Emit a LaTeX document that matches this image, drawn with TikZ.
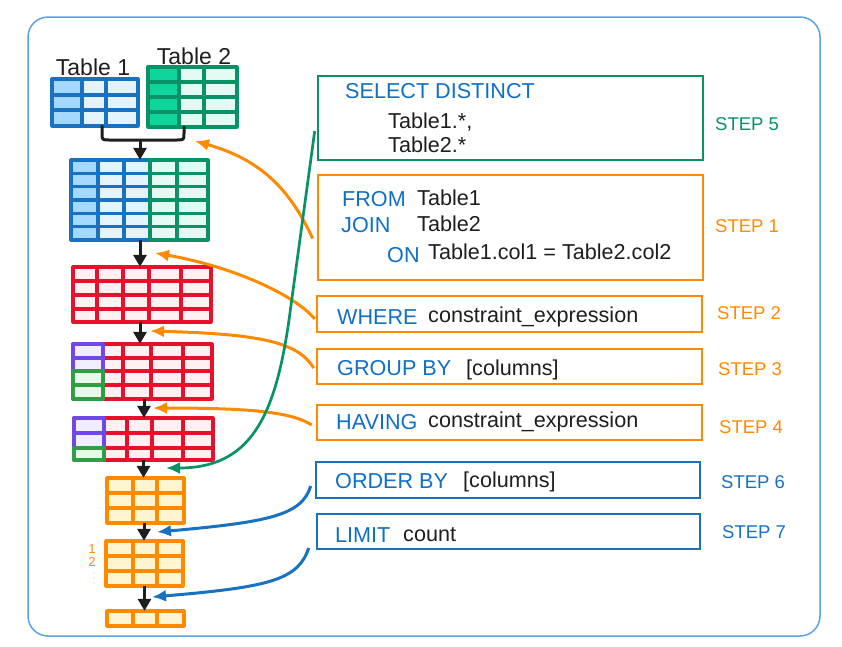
\documentclass[tikz,border=0pt]{standalone}
\usepackage{fontspec}
\setmainfont{Liberation Sans}
\usetikzlibrary{arrows.meta,calc,fit}
\definecolor{cBlue}{HTML}{1971C2}
\definecolor{cBlueDk}{HTML}{A5D8FF}
\definecolor{cBlueLt}{HTML}{E3F3FF}
\definecolor{cGreen}{HTML}{099268}
\definecolor{cGreenDk}{HTML}{0FD49C}
\definecolor{cGreenLt}{HTML}{E3FBF3}
\definecolor{cRed}{HTML}{E8112D}
\definecolor{cRedLt}{HTML}{FFF1F1}
\definecolor{cPurple}{HTML}{7048E8}
\definecolor{cPurpleLt}{HTML}{EFEDFF}
\definecolor{cGreenB}{HTML}{2F9E44}
\definecolor{cGreenBLt}{HTML}{E6F9EA}
\definecolor{cOrange}{HTML}{FF8A00}
\definecolor{cOrangeLt}{HTML}{FFF5D1}
\definecolor{cKey}{HTML}{0F6FC6}
\definecolor{cFrame}{HTML}{5AA2E6}
\definecolor{cInk}{HTML}{1E1E1E}
\newcommand{\mktable}[8]{%
  \node[fit={(#3,#4) (#5,#6)}, inner sep=0pt] (#1) {};
  \foreach \xx in {#7} {\draw[#2,tline] (\xx,#4) -- (\xx,#6);}
  \foreach \yy in {#8} {\draw[#2,tline] (#3,\yy) -- (#5,\yy);}
  \draw[#2,tline] (#3,#4) rectangle (#5,#6);}
\begin{document}
\begin{tikzpicture}[x=1pt,y=-1pt,
  tline/.style={line width=3.2pt,line join=round},
  box/.style={inner sep=0pt,line width=2.6pt},
  txt/.style={inner sep=0pt,anchor=base west,font=\fontsize{21.6}{25}\selectfont,text=cInk},
  kw/.style={txt,text=cKey},
  steplbl/.style={inner sep=0pt,anchor=base west,font=\fontsize{18.5}{22}\selectfont},
  hand/.style={inner sep=0pt,font=\fontsize{23}{26}\selectfont,text=cInk},
  barr/.style={line width=3pt,cInk,-{Triangle[length=12pt,width=13pt]}},
  carr/.style={line width=3pt,-{Latex[length=14pt,width=12pt]}}]
\useasboundingbox (0,0) rectangle (842,646);
\draw[cFrame,line width=1.5pt,rounded corners=20pt] (28,17) rectangle (820,636);

% ---- Table 1 & Table 2
\node[hand] (lab1) at (93,67) {Table 1};
\node[hand] (lab2) at (194,56) {Table 2};
\fill[cBlueLt] (52,79) rectangle (138,126);
\fill[cBlueDk] (52,79) rectangle (82,126);
\mktable{t1}{cBlue}{52}{79}{138}{126}{82,106}{95,110}
\fill[cGreenLt] (148,67) rectangle (237,127);
\fill[cGreenDk] (148,67) rectangle (179,127);
\mktable{t2}{cGreen}{148}{67}{237}{127}{179,204}{82,97,112}

% ---- joined table
\fill[cBlueLt] (71,160) rectangle (150,240);
\fill[cBlueDk] (71,160) rectangle (98,240);
\fill[cGreenLt] (150,160) rectangle (208,240);
\mktable{jl}{cBlue}{71}{160}{150}{240}{98,124}{173.3,186.7,200,213.3,226.7}
\mktable{jr}{cGreen}{150}{160}{208}{240}{177}{173.3,186.7,200,213.3,226.7}
\node[fit={(71,160) (208,240)}, inner sep=0pt] (j) {};

% ---- red tables
\fill[cRedLt] (73,267) rectangle (211,322);
\mktable{r1}{cRed}{73}{267}{211}{322}{97,123,149,181}{281,295,309}
\fill[cRedLt] (73,344) rectangle (212,399);
\fill[cPurpleLt] (73,344) rectangle (103,371);
\fill[cGreenBLt] (73,371) rectangle (103,399);
\mktable{r2}{cRed}{73}{344}{212}{399}{103,123,151,183}{358,371,385}
\draw[cPurple,tline] (73,344) rectangle (103,371) (73,358) -- (103,358);
\draw[cGreenB,tline] (73,371) rectangle (103,399) (73,385) -- (103,385);
\fill[cRedLt] (74,418) rectangle (213,460);
\fill[cPurpleLt] (74,418) rectangle (104,448);
\fill[cGreenBLt] (74,448) rectangle (104,460);
\mktable{r3}{cRed}{74}{418}{213}{460}{104,127,152,183}{433,448}
\draw[cPurple,tline] (74,418) rectangle (104,448) (74,433) -- (104,433);
\draw[cGreenB,tline] (74,448) rectangle (104,460);

% ---- orange tables
\fill[cOrangeLt] (107,478) rectangle (184,523);
\mktable{o1}{cOrange}{107}{478}{184}{523}{133,157}{493,508}
\fill[cOrangeLt] (106,541) rectangle (183,586);
\mktable{o2}{cOrange}{106}{541}{183}{586}{133,157}{556,571}
\fill[cOrangeLt] (107,611) rectangle (184,626);
\node[fit={(107,611) (184,626)}, inner sep=0pt] (o3) {};
\draw[cOrange,tline] (107,611) rectangle (184,626) (133,611) -- (133,626) (157,611) -- (157,626);
\node[inner sep=0pt,text=cOrange,font=\fontsize{13}{14}\selectfont] (n1) at (92,549) {1};
\node[inner sep=0pt,text=cOrange,font=\fontsize{13}{14}\selectfont] (n2) at (92,562) {2};
\foreach \yy in {573,578,583} {\fill[cOrange!60] (94,\yy) circle (0.7pt);}

% ---- black connectors
\coordinate (jn) at (140,140);
\draw[line width=3pt,cInk,line cap=round] ([xshift=7pt]t1.south) -- (102,133) .. controls (102,140) .. (110,140) -- (176,140) .. controls (184,140) .. (184,133) -- ([xshift=-8.5pt]t2.south);
\draw[barr] (jn) -- (jn |- j.north);
\draw[barr] (jn |- j.south) -- (jn |- r1.north);
\draw[barr] (jn |- r1.south) -- (jn |- r2.north);
\draw[barr] ([xshift=1.5pt]r2.south) -- ([xshift=1.5pt]r2.south |- r3.north);
\draw[barr] (r3.south) -- (r3.south |- o1.north);
\draw[barr] ([xshift=-1.5pt]o1.south) -- ([xshift=-1.5pt]o1.south |- o2.north);
\draw[barr] (o2.south) -- (o2.south |- o3.north);

% ---- SQL boxes
\node[box,draw=cGreen,fit={(318,76) (703,160)}] (sel) {};
\node[box,draw=cOrange,fit={(318,175) (703,280)}] (from) {};
\node[box,draw=cOrange,fit={(317,296) (702,332)}] (where) {};
\node[box,draw=cOrange,fit={(317,349) (702,384)}] (group) {};
\node[box,draw=cOrange,fit={(317,405) (702,440)}] (having) {};
\node[box,draw=cBlue,fit={(316,462) (700,498)}] (order) {};
\node[box,draw=cBlue,fit={(317,514) (700,549)}] (limit) {};

\node[kw] (k1) at (345,98) {SELECT DISTINCT};
\node[txt] (a1) at (388,128) {Table1.*,};
\node[txt] (a2) at (388,152) {Table2.*};
\node[kw] (k2) at (342,206) {FROM};
\node[txt] (a3) at (417,205) {Table1};
\node[kw] (k3) at (341,232) {JOIN};
\node[txt] (a4) at (417,231) {Table2};
\node[kw] (k4) at (387,262) {ON};
\node[txt] (a5) at (428,259) {Table1.col1 = Table2.col2};
\node[kw] (k5) at (337,324) {WHERE};
\node[txt] (a6) at (428,322) {constraint\_expression};
\node[kw] (k6) at (337,375) {GROUP BY};
\node[txt] (a7) at (466,375) {[columns]};
\node[kw] (k7) at (336,429) {HAVING};
\node[txt] (a8) at (428,427) {constraint\_expression};
\node[kw] (k8) at (335,488) {ORDER BY};
\node[txt] (a9) at (463,487) {[columns]};
\node[kw] (k9) at (335,542) {LIMIT};
\node[txt] (a10) at (403,541) {count};

\node[steplbl,text=cGreen] (s5) at (715,130) {STEP 5};
\node[steplbl,text=cOrange] (s1) at (715,232) {STEP 1};
\node[steplbl,text=cOrange] (s2) at (717,319) {STEP 2};
\node[steplbl,text=cOrange] (s3) at (718,375) {STEP 3};
\node[steplbl,text=cOrange] (s4) at (719,433) {STEP 4};
\node[steplbl,text=cBlue] (s6) at (721,488) {STEP 6};
\node[steplbl,text=cBlue] (s7) at (722,538) {STEP 7};

% ---- coloured connectors
\coordinate (tip1) at (195,141);
\coordinate (tip2) at (155,253);
\coordinate (tip3) at (150,331);
\coordinate (tip4) at (153,408);
\coordinate (tip5) at (166,468);
\coordinate (tip6) at (157,532);
\coordinate (tip7) at (152,597);
\draw[carr,cOrange] ($(from.west)+(-4,11)$) .. controls (290,190) and (262,160) .. (tip1);
\draw[carr,cOrange] ($(where.west)+(-1,5)$) .. controls (298,298) and (240,268) .. (tip2);
\draw[carr,cOrange] ($(group.west)+(-2,1.5)$) .. controls (298,342) and (260,334) .. (tip3);
\draw[carr,cOrange] ($(having.west)+(-4,2.5)$) .. controls (292,412) and (250,408) .. (tip4);
\draw[carr,cGreen,line width=2.7pt] ($(sel.west)+(-2,13)$) -- (289,320) .. controls (275,418) and (250,468) .. (tip5);
\draw[carr,cBlue] ($(order.west)+(-4,6)$) .. controls (302,515) and (270,522) .. (tip6);
\draw[carr,cBlue] ($(limit.west)+(-7,16.5)$) .. controls (298,580) and (270,587) .. (tip7);
\end{tikzpicture}
\end{document}
